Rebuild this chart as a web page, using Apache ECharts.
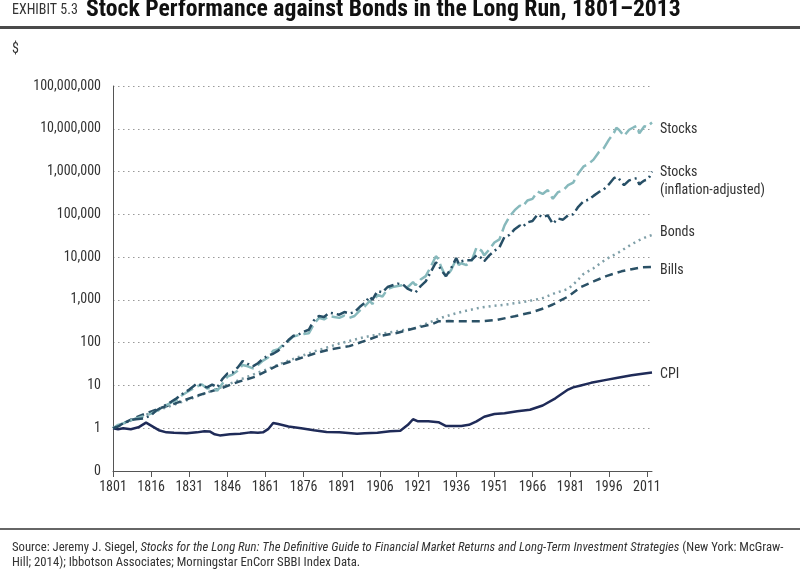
<!DOCTYPE html>
<html><head><meta charset="utf-8">
<script src="https://cdn.jsdelivr.net/npm/echarts@6/dist/echarts.min.js"></script>
<style>html,body{margin:0;padding:0;background:#fff}#c{width:800px;height:571px}</style>
</head><body><div id="c"></div>
<script>
// ---------- DATA ----------
var stocksYears = [1801,1803,1805,1809,1813,1816,1818,1821,1824,1826,1828,1831,1834,1836,1838,1840,1842,1844,1846,1848,1850,1852,1854,1856,1858,1860,1862,1864,1866,1868,1870,1872,1874,1876,1878,1880,1882,1884,1886,1888,1890,1892,1894,1896,1898,1900,1902,1903,1905,1907,1909,1911,1913,1915,1917,1919,1920,1922,1924,1926,1928,1929,1930,1932,1934,1936,1937,1938,1940,1942,1944,1946,1947,1949,1951,1953,1955,1957,1959,1961,1962,1964,1966,1968,1970,1972,1974,1976,1978,1980,1982,1984,1986,1988,1990,1992,1994,1996,1998,1999,2000,2002,2004,2006,2007,2008,2009,2010,2011,2012,2013];
var stocks = [1.0,1.2,1.3,1.6,1.9,2.2,2.5,3.2,4.0,4.5,5.8,7.5,9.5,10.5,8.5,9.0,7.5,11,16,18,22,30,28,25,30,38,45,65,70,90,110,140,150,160,165,270,380,350,420,400,380,430,380,420,560,700,950,800,1300,1200,1800,2000,2100,2200,2000,2600,2200,3000,3600,6000,10500,9000,6000,3400,5000,9000,6500,7200,6500,8000,17000,14000,11000,15000,22000,26000,55000,90000,125000,160000,150000,210000,230000,340000,300000,370000,230000,330000,360000,480000,550000,900000,1300000,1500000,1900000,2800000,3500000,5500000,8000000,10500000,9500000,6800000,9500000,11000000,11700000,7800000,9500000,11500000,11000000,12500000,14000000];
var stocksReal = [1.0,1.1,1.3,1.6,1.7,2.0,2.6,3.3,4.2,5.0,6.2,8,11,10,9,10.5,9,14,19,20,26,37,32,28,33,42,50,55,65,85,115,145,155,180,200,330,420,400,500,480,450,520,480,520,680,850,1200,1000,1600,1500,2000,2200,2400,2300,1800,1600,1500,2100,2700,4500,7500,6500,5000,3600,5500,9500,7000,8000,8500,8500,11000,9500,8000,11000,14000,17000,30000,33000,45000,55000,50000,65000,70000,100000,85000,95000,60000,80000,75000,95000,100000,150000,200000,220000,270000,330000,380000,500000,700000,750000,680000,480000,620000,680000,700000,500000,560000,620000,640000,750000,1000000];
var bondsYears = [1801,1810,1820,1830,1840,1850,1860,1870,1880,1890,1900,1910,1920,1925,1930,1935,1940,1945,1950,1955,1960,1965,1970,1975,1980,1983,1986,1990,1995,2000,2005,2008,2011,2013];
var bonds = [1.0,1.7,2.8,4.5,7.5,13,22,38,62,95,135,175,220,290,380,470,560,650,720,770,850,950,1100,1450,1800,2600,4000,5500,9000,13000,20000,25000,30000,33000];
var billsYears = [1801,1810,1820,1826,1835,1844,1850,1857,1865,1874,1880,1886,1894,1900,1905,1913,1920,1926,1929,1933,1940,1946,1952,1959,1965,1971,1974,1980,1985,1990,1995,2001,2005,2009,2013];
var bills = [1.0,1.8,3.0,3.9,6.0,8.8,12,16,28,42,55,69,83,110,140,170,220,265,315,320,315,315,340,415,500,650,780,1200,2000,2700,3600,4650,5200,5800,5900];
var cpiYears = [1801,1803,1805,1808,1811,1814,1816,1819,1822,1825,1830,1834,1837,1839,1841,1843,1847,1851,1855,1858,1860,1862,1864,1866,1870,1875,1880,1885,1890,1897,1900,1905,1910,1914,1917,1919,1921,1925,1929,1932,1935,1938,1941,1944,1947,1951,1955,1960,1965,1970,1975,1980,1982,1985,1989,1995,1999,2005,2010,2013];
var cpi = [1.0,0.95,1.0,0.95,1.05,1.35,1.15,0.9,0.8,0.78,0.76,0.8,0.85,0.84,0.72,0.68,0.72,0.74,0.8,0.78,0.8,0.95,1.33,1.25,1.1,1.0,0.9,0.82,0.8,0.74,0.76,0.78,0.85,0.87,1.2,1.62,1.45,1.45,1.38,1.12,1.12,1.13,1.2,1.45,1.85,2.15,2.25,2.5,2.7,3.4,5.0,8.0,9.0,10.0,11.5,13.5,15,17.3,19.0,20.0];
var xTicks = [1801,1816,1831,1846,1861,1876,1891,1906,1921,1936,1951,1966,1981,1996,2011];
var seriesNames = ['Stocks','Stocks\n(inflation-adjusted)','Bonds','Bills','CPI'];

function zip(xs, ys){ return xs.map(function(x,i){ return [x, ys[i]]; }); }

var FONT = "'Liberation Sans Narrow','Roboto Condensed','Arial Narrow',sans-serif";
var chart = echarts.init(document.getElementById('c'), null, {renderer:'canvas'});

function endLab(name, off){
  return {show:true, formatter:name, color:'#333', fontFamily:FONT, fontSize:14, lineHeight:18, distance:8, offset:off, align:'left'};
}

chart.setOption({
  animation:false,
  backgroundColor:'#fff',
  grid:{left:113, right:148, top:86, bottom:100, containLabel:false},
  graphic:[
    {type:'text', left:12, top:3, style:{text:'EXHIBIT 5.3', font:"14px "+FONT, fill:'#333'}},
    {type:'text', left:86, top:-2, style:{text:'Stock Performance against Bonds in the Long Run, 1801\u20132013', font:"bold 23.7px "+FONT, fill:'#111'}},
    {type:'rect', shape:{x:0,y:26,width:800,height:3}, style:{fill:'#4a4a4a'}},
    {type:'text', left:12, top:42, style:{text:'$', font:"14px "+FONT, fill:'#333'}},
    {type:'rect', shape:{x:0,y:528,width:800,height:2}, style:{fill:'#666'}},
    {type:'text', left:12, top:540, style:{
      rich:{n:{font:"12.7px "+FONT, fill:'#333'}, i:{font:"italic 12.7px "+FONT, fill:'#333'}},
      text:'{n|Source: Jeremy J. Siegel, }{i|Stocks for the Long Run: The Definitive Guide to Financial Market Returns and Long-Term Investment Strategies}{n| (New York: McGraw-}\n{n|Hill; 2014); Ibbotson Associates; Morningstar EnCorr SBBI Index Data.}',
      lineHeight:15
    }}
  ],
  xAxis:{
    type:'value', min:1801, max:2013,
    axisLine:{show:true, lineStyle:{color:'#555', width:1}},
    axisTick:{show:true, length:6, lineStyle:{color:'#555'}, customValues:xTicks},
    axisLabel:{color:'#333', fontFamily:FONT, fontSize:14, margin:9, customValues:xTicks, formatter:function(v){return String(v);}},
    splitLine:{show:false}
  },
  yAxis:{
    type:'log', logBase:10, min:0.1, max:100000000,
    axisLine:{show:true, lineStyle:{color:'#555', width:1}},
    axisTick:{show:false},
    axisLabel:{color:'#333', fontFamily:FONT, fontSize:14, margin:12, formatter:function(v){ if(v<0.5) return '0'; return Math.round(v).toLocaleString('en-US'); }},
    splitLine:{show:true, lineStyle:{color:'#9a9a9a', type:[1.5,3.5], width:1.2}}
  },
  series:[
    {name:seriesNames[0], type:'line', data:zip(stocksYears, stocks), showSymbol:false, z:3,
     lineStyle:{color:'#87b9bc', width:2.5, type:[14,5]}, endLabel:endLab(seriesNames[0],[0,7])},
    {name:seriesNames[1], type:'line', data:zip(stocksYears, stocksReal), showSymbol:false, z:4,
     lineStyle:{color:'#274f66', width:2.5, type:[11,4,2,4]}, endLabel:endLab(seriesNames[1],[0,10])},
    {name:seriesNames[2], type:'line', data:zip(bondsYears, bonds), showSymbol:false, z:2,
     lineStyle:{color:'#7f9fa8', width:2.5, type:[2,4]}, endLabel:endLab(seriesNames[2],[0,-2])},
    {name:seriesNames[3], type:'line', data:zip(billsYears, bills), showSymbol:false, z:2,
     lineStyle:{color:'#2b5166', width:2.5, type:[8,5]}, endLabel:endLab(seriesNames[3],[0,4])},
    {name:seriesNames[4], type:'line', data:zip(cpiYears, cpi), showSymbol:false, z:2,
     lineStyle:{color:'#1f2b58', width:2.5}, endLabel:endLab(seriesNames[4],[0,2])}
  ]
});
</script>
</body></html>
